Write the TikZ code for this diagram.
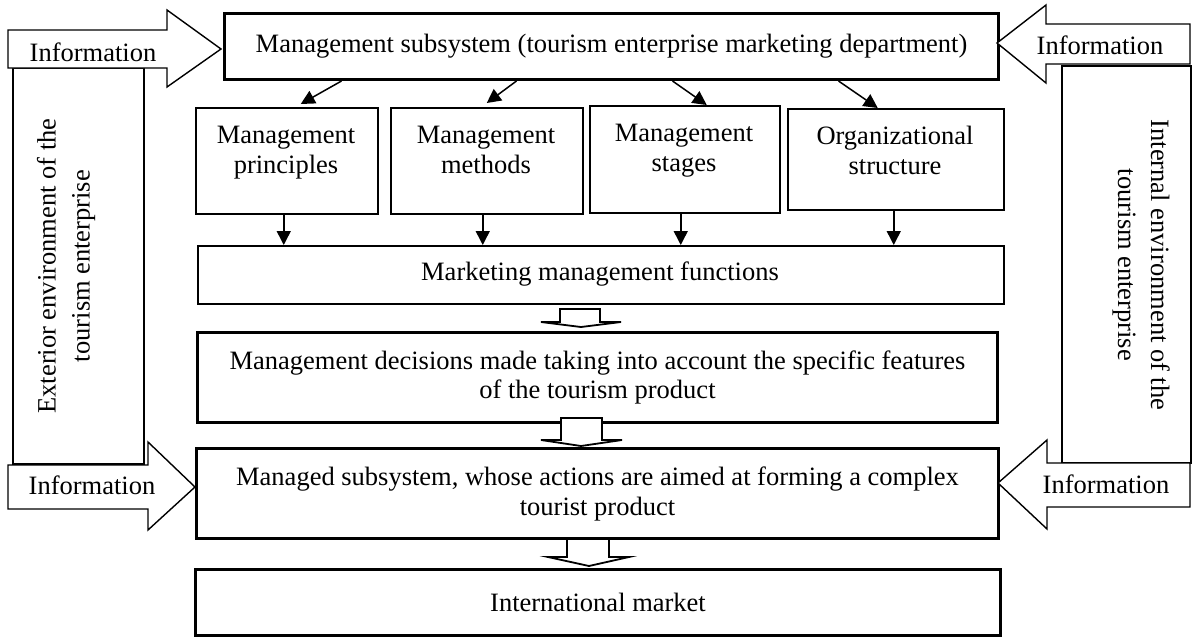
\documentclass[tikz,border=0pt]{standalone}
\usepackage{fontspec}
\setmainfont{Liberation Serif}
\usetikzlibrary{arrows.meta}
\begin{document}
\begin{tikzpicture}[x=1pt,y=-1pt,font=\fontsize{26.5}{30}\selectfont,
  thinbox/.style={draw, line width=1.5pt, inner sep=0pt, anchor=north west},
  thickbox/.style={draw, line width=3pt, inner sep=0pt, anchor=north west, align=center},
  lbl/.style={inner sep=0pt, align=center},
  arr/.style={line width=1.5pt, -{Triangle[length=14pt,width=14pt]}},
  infoarrow/.style={draw, line width=1.4pt, fill=white, line join=miter},
  hollow/.style={draw, line width=1.8pt, fill=white, line join=miter}]
\useasboundingbox (0,0) rectangle (1192,637);

% side boxes
\node[thinbox, minimum width=131pt, minimum height=396pt] (ext) at (12,67) {};
\node[lbl, rotate=90, font=\fontsize{26.5}{34}\selectfont] (extt) at (66,266) {Exterior environment of the\\tourism enterprise};
\node[thinbox, minimum width=129pt, minimum height=397pt] (int) at (1061,65) {};
\node[lbl, rotate=-90, font=\fontsize{26.5}{33}\selectfont] (intt) at (1141,265) {Internal environment of the\\tourism enterprise};

% main boxes
\node[thickbox, minimum width=774pt, minimum height=66pt] (top) at (223,12) {Management subsystem (tourism enterprise marketing department)};

\node[thinbox, minimum width=182pt, minimum height=106pt] (p1) at (195,107) {};
\node[thinbox, minimum width=192pt, minimum height=106pt] (p2) at (390,107) {};
\node[thinbox, minimum width=190pt, minimum height=107pt] (p3) at (589,105) {};
\node[thinbox, minimum width=216pt, minimum height=101pt] (p4) at (787,108) {};
\node[lbl, anchor=north] (p1t) at (286,126) {Management\\principles};
\node[lbl, anchor=north] (p2t) at (486,126) {Management\\methods};
\node[lbl, anchor=north] (p3t) at (684,124) {Management\\stages};
\node[lbl, anchor=north] (p4t) at (895,126) {Organizational\\structure};

\node[thinbox, minimum width=806pt, minimum height=58pt] (mf) at (197,245) {};
\node[lbl] (mft) at (600,274) {Marketing management functions};

\node[thickbox, minimum width=800pt, minimum height=90pt, font=\fontsize{26.5}{29}\selectfont] (dec) at (196,331) {Management decisions made taking into account the specific features\\of the tourism product};
\node[thickbox, minimum width=802pt, minimum height=90pt] (man) at (195,447) {Managed subsystem, whose actions are aimed at forming a complex\\tourist product};
\node[thickbox, minimum width=805pt, minimum height=66pt] (mk) at (194,568) {International market};

% arrows from top box
\draw[arr] ([xshift=-270pt]top.south) -- ([xshift=14pt,yshift=3pt]p1.north);
\draw[arr] ([xshift=-95pt]top.south) -- ([yshift=4pt]p2.north);
\draw[arr] ([xshift=61pt]top.south) -- ([xshift=22pt]p3.north);
\draw[arr] ([xshift=227pt]top.south) -- ([xshift=-18pt]p4.north);

% arrows down to functions
\draw[arr] ([xshift=-3pt]p1.south) -- ([xshift=-3pt]p1.south |- mf.north);
\draw[arr] ([xshift=-4pt]p2.south) -- ([xshift=-4pt]p2.south |- mf.north);
\draw[arr] ([xshift=-4pt]p3.south) -- ([xshift=-4pt]p3.south |- mf.north);
\draw[arr] ([xshift=-2pt]p4.south) -- ([xshift=-2pt]p4.south |- mf.north);

% hollow block arrows
\draw[hollow] (560,309) -- (600,309) -- (600,322) -- (621,322) -- (581,327) -- (541,322) -- (560,322) -- cycle;
\draw[hollow] (561,418) -- (602,418) -- (602,440) -- (622,440) -- (581,446) -- (541,440) -- (561,440) -- cycle;
\draw[hollow] (567,539) -- (609,539) -- (609,557) -- (629,557) -- (589,566) -- (548,557) -- (567,557) -- cycle;

% information arrows
\draw[infoarrow] (8,30) -- (167,30) -- (167,10) -- (221,49) -- (167,87) -- (167,68) -- (8,68) -- cycle;
\node[lbl, anchor=base] (i1) at (93,61) {Information};
\draw[infoarrow] (1190,24) -- (1046,24) -- (1046,5) -- (997,43) -- (1046,83) -- (1046,64) -- (1190,64) -- cycle;
\node[lbl, anchor=base] (i2) at (1100,54) {Information};
\draw[infoarrow] (8,465) -- (148,465) -- (148,442) -- (195,487) -- (148,530) -- (148,509) -- (8,509) -- cycle;
\node[lbl, anchor=base] (i3) at (92,494) {Information};
\draw[infoarrow] (1190,463) -- (1047,463) -- (1047,440) -- (998,483) -- (1047,529) -- (1047,507) -- (1190,507) -- cycle;
\node[lbl, anchor=base] (i4) at (1106,493) {Information};
\end{tikzpicture}
\end{document}
